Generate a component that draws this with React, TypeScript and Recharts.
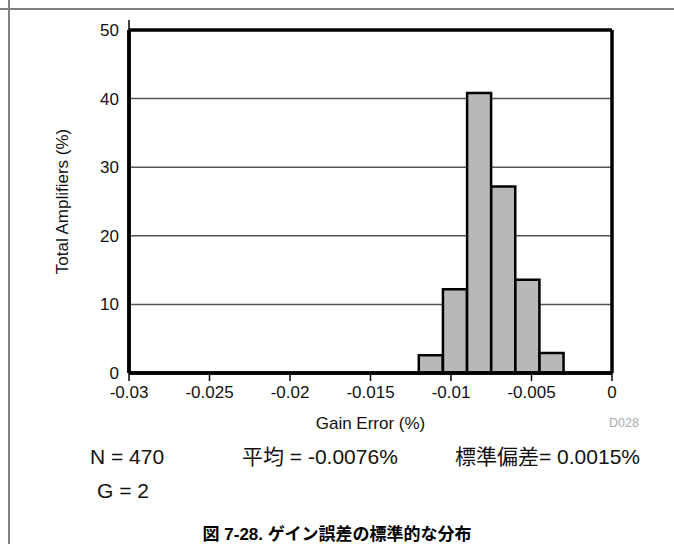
import { ComposedChart, Bar, XAxis, YAxis, CartesianGrid, ReferenceLine } from 'recharts';

// histogram bins (bin width 0.0015 %), centre of each bin
const binCenters = [-0.01125, -0.00975, -0.00825, -0.00675, -0.00525, -0.00375];
const binPercents = [2.6, 12.2, 40.8, 27.2, 13.6, 2.9];

const xTicks = [-0.03, -0.025, -0.02, -0.015, -0.01, -0.005, 0];
const yTicks = [0, 10, 20, 30, 40, 50];

const data = binCenters.map((x, i) => ({ x, pct: binPercents[i] }));

const FONT = '"Liberation Sans", Arial, "Noto Sans CJK JP", sans-serif';

const NoLabel = () => <g />;

export default function App() {
  const tickStyle = { fill: '#111', fontSize: 17, fontFamily: FONT };
  return (
    <div style={{ position: 'absolute', left: 0, top: 0, width: 674, height: 544, background: '#fff' }}>
      <ComposedChart
        width={674}
        height={544}
        data={data}
        margin={{ top: 20, right: 61, left: 20, bottom: 111 }}
        barCategoryGap={0}
        barGap={0}
      >
        <CartesianGrid vertical={false} stroke="#555" strokeWidth={1.5} horizontalValues={[10, 20, 30, 40]} />
        <Bar dataKey="pct" fill="#b8b8b8" stroke="#000" strokeWidth={2.5} isAnimationActive={false} />
        <XAxis
          dataKey="x"
          type="number"
          domain={[-0.03, 0]}
          allowDataOverflow
          ticks={xTicks}
          height={60}
          tick={tickStyle}
          tickSize={8}
          tickMargin={5}
          tickLine={{ stroke: '#000', strokeWidth: 1.5 }}
          axisLine={{ stroke: '#000', strokeWidth: 3.5 }}
          label={{ value: 'Gain Error (%)', position: 'insideBottom', offset: 4, style: { fill: '#111', fontSize: 17, fontFamily: FONT } }}
        />
        <XAxis
          xAxisId="top"
          orientation="top"
          type="number"
          domain={[-0.03, 0]}
          allowDataOverflow
          ticks={xTicks}
          height={10}
          tick={NoLabel}
          tickSize={10}
          tickLine={{ stroke: '#000', strokeWidth: 1.5 }}
          axisLine={{ stroke: '#000', strokeWidth: 3.5 }}
        />
        <YAxis
          type="number"
          domain={[0, 50]}
          allowDataOverflow
          ticks={yTicks}
          width={109}
          tick={tickStyle}
          tickLine={false}
          tickSize={8}
          tickMargin={2}
          axisLine={{ stroke: '#000', strokeWidth: 3.5 }}
          label={{ value: 'Total Amplifiers (%)', angle: -90, position: 'insideLeft', offset: 42, style: { textAnchor: 'middle', fill: '#111', fontSize: 17, fontFamily: FONT } }}
        />
        <YAxis
          yAxisId="right"
          orientation="right"
          type="number"
          domain={[0, 50]}
          allowDataOverflow
          ticks={yTicks}
          width={1}
          tick={NoLabel}
          tickLine={false}
          axisLine={{ stroke: '#000', strokeWidth: 3.5 }}
        />
        {/* plot frame, left and bottom */}
        <ReferenceLine x={-0.03} stroke="#000" strokeWidth={3.5} ifOverflow="visible" />
        <ReferenceLine y={0} stroke="#000" strokeWidth={3.5} ifOverflow="visible" />
      </ComposedChart>
      <svg
        width={674}
        height={544}
        style={{ position: 'absolute', left: 0, top: 0, pointerEvents: 'none' }}
        fontFamily={FONT}
      >
        <line x1={0} y1={9} x2={674} y2={9} stroke="#808080" strokeWidth={2} />
        <line x1={9} y1={0} x2={9} y2={544} stroke="#808080" strokeWidth={2} />
        <text x={609} y={427} fontSize={12.5} fill="#aaa">D028</text>
        <text x={90} y={464} fontSize={21} fill="#111">N = 470</text>
        <text x={242} y={464} fontSize={21} fill="#111">平均 = -0.0076%</text>
        <text x={455} y={464} fontSize={21} fill="#111">標準偏差= 0.0015%</text>
        <text x={97} y={498} fontSize={21} fill="#111">G = 2</text>
        <text x={337} y={540} fontSize={17} fontWeight="bold" textAnchor="middle" fill="#000">
          図 7-28. ゲイン誤差の標準的な分布
        </text>
      </svg>
    </div>
  );
}
